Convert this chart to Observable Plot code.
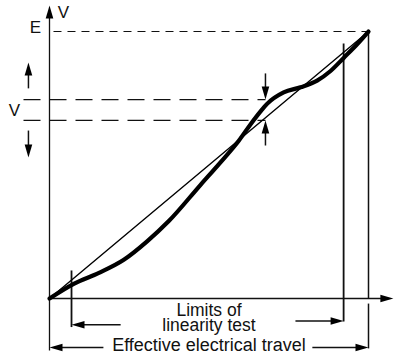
<!DOCTYPE html>
<html>
<head>
<meta charset="utf-8">
<script src="https://cdn.jsdelivr.net/npm/d3@7"></script>
<script src="https://cdn.jsdelivr.net/npm/@observablehq/plot@0.6"></script>
<style>
  html, body { margin: 0; padding: 0; background: #fff; }
  svg { display: block; }
</style>
</head>
<body>
<div id="chart"></div>
<script>
// Actual output curve (fraction of travel, fraction of E)
const travel = [0, 0.076, 0.155, 0.233, 0.306, 0.374, 0.473, 0.536, 0.594, 0.630, 0.661, 0.682, 0.734, 0.787, 0.839, 0.881, 0.923, 0.965, 1];
const output = [0, 0.055, 0.096, 0.145, 0.214, 0.290, 0.425, 0.510, 0.592, 0.652, 0.700, 0.729, 0.772, 0.791, 0.816, 0.852, 0.902, 0.953, 1];

// Ideal straight line
const idealX = [0, 1];
const idealY = [0, 1];

// Deviation band (V) levels and E level
const bandLevels = [0.745, 0.667];
const eLevel = 1;

// Solid line segments: x1, y1, x2, y2
const segX1 = [0, 0, 0.069, 0.922, 1, 1, -0.066, -0.066, 0.677, 0.677, 0.223, 0.771, 0.169, 0.824];
const segY1 = [-0.195, 0, 0.105, 0.955, 1, -0.019, 0.787, 0.629, 0.843, 0.573, -0.0985, -0.084, -0.1835, -0.1835];
const segX2 = [0, 1.05, 0.069, 0.922, 1, 1, -0.066, -0.066, 0.677, 0.677, 0.09, 0.90, 0.02, 0.98];
const segY2 = [1.07, 0, -0.107, -0.086, 0, -0.187, 0.855, 0.56, 0.77, 0.645, -0.0985, -0.084, -0.1835, -0.1835];
const segW  = [1.3, 1.3, 1.8, 1.8, 1.5, 1.5, 1.5, 1.5, 1.5, 1.5, 1.5, 1.5, 1.5, 1.5];

// Arrowheads: tip position and direction (degrees, 0 = up)
const tipX = [0, 1.078, -0.066, -0.066, 0.677, 0.677, 0.069, 0.922, 0, 1];
const tipY = [1.097, 0, 0.884, 0.528, 0.745, 0.667, -0.0985, -0.084, -0.1835, -0.1835];
const tipAngle = [0, 90, 0, 180, 180, 0, 270, 90, 270, 90];

// Labels
const labelText = ["V", "E", "V", "Limits of\nlinearity test", "Effective electrical travel"];
const labelX = [0.044, -0.044, -0.110, 0.5, 0.5];
const labelY = [1.067, 1.013, 0.700, -0.074, -0.1775];
const labelSize = [17, 17, 17, 17.5, 18];

const curve = travel.map((x, i) => ({x, y: output[i]}));
const ideal = idealX.map((x, i) => ({x, y: idealY[i]}));
const segs = segX1.map((x1, i) => ({x1, y1: segY1[i], x2: segX2[i], y2: segY2[i], w: segW[i]}));
const tips = tipX.map((x, i) => ({x, y: tipY[i], a: tipAngle[i]}));
const labels = labelText.map((t, i) => ({t, x: labelX[i], y: labelY[i], s: labelSize[i]}));

const arrowHead = {
  draw(context) {
    const l = 13, w = 3.8;
    context.moveTo(0, 0);
    context.lineTo(-w, l);
    context.lineTo(w, l);
    context.closePath();
  }
};

const marks = [
  Plot.link([{x1: 0.0125, x2: 1, y: eLevel}], {x1: "x1", x2: "x2", y1: "y", y2: "y", stroke: "#111", strokeWidth: 1.2, strokeDasharray: "8,6"}),
  Plot.link(bandLevels.map(y => ({y})), {x1: () => -0.0815, x2: () => 0.677, y1: "y", y2: "y", stroke: "#111", strokeWidth: 1.2, strokeDasharray: "17,9"}),
  Plot.link(segs, {x1: "x1", y1: "y1", x2: "x2", y2: "y2", stroke: "#111", strokeWidth: "w"}),
  Plot.line(ideal, {x: "x", y: "y", stroke: "#000", strokeWidth: 1.4}),
  Plot.line(curve, {x: "x", y: "y", stroke: "#000", strokeWidth: 4.2, curve: "monotone-x"}),
  ...[0, 90, 180, 270].map(a => Plot.dot(tips.filter(d => d.a === a), {x: "x", y: "y", symbol: arrowHead, fill: "#000", stroke: "none", rotate: a, r: 5})),
  ...labels.map(d => Plot.text([d], {x: "x", y: "y", text: "t", fontSize: d.s, lineHeight: 0.86, fill: "#111", fontFamily: "'Liberation Sans', Arial, Helvetica, sans-serif", textAnchor: "middle", lineAnchor: "middle"}))
];

const chart = Plot.plot({
  width: 395,
  height: 355,
  margin: 0,
  x: {domain: [0, 1], range: [49, 368], axis: null},
  y: {domain: [0, 1], range: [298, 31], axis: null},
  style: {background: "#fff", overflow: "visible"},
  marks
});
document.getElementById("chart").appendChild(chart);
</script>
</body>
</html>
